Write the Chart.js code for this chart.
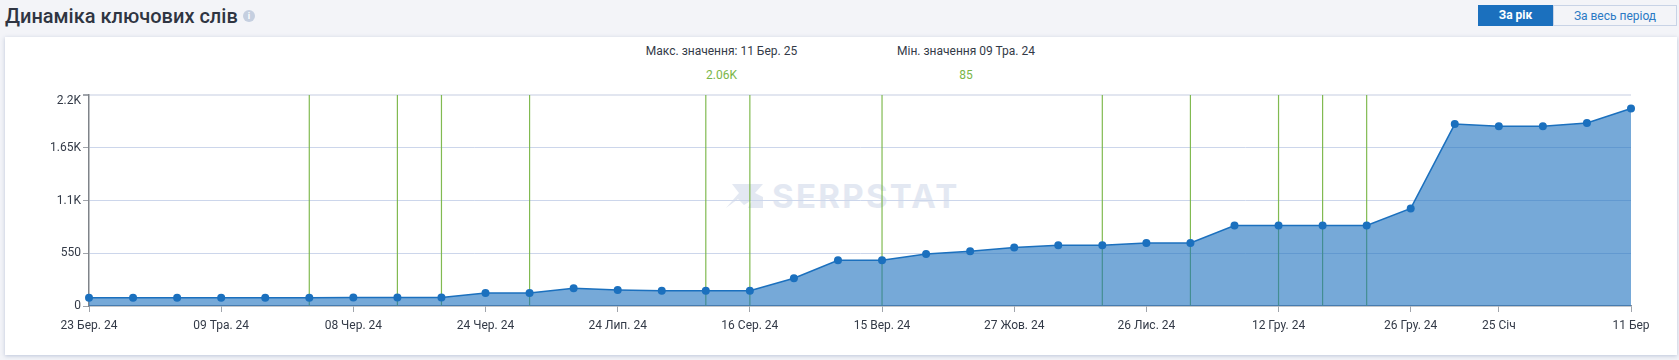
<!DOCTYPE html>
<html lang="uk">
<head>
<meta charset="utf-8">
<title>Динаміка ключових слів</title>
<script src="https://cdn.jsdelivr.net/npm/chart.js@4"></script>
<style>
html,body{margin:0;padding:0;width:1679px;height:360px;overflow:hidden;background:#f3f4f8;font-family:Roboto,sans-serif;}
.abs{position:absolute;white-space:nowrap;}
#title{left:5px;top:2px;font-size:20px;line-height:28px;font-weight:500;color:#2f3542;}
#info{left:243px;top:10px;width:12px;height:12px;border-radius:50%;background:#c5cfe0;color:#fff;font-size:9px;line-height:12px;text-align:center;font-weight:700;}
.btn{top:5px;height:21px;line-height:20px;font-size:12px;text-align:center;box-sizing:border-box;}
#b1{left:1478px;width:75px;background:#1b70be;color:#fff;font-weight:700;}
#b2{left:1553px;width:124px;background:#f3f4f8;color:#2a79c4;border:1px solid #c8d3e6;}
#card{left:5px;top:37px;width:1672px;height:318px;background:#fff;box-shadow:0 1px 4px rgba(120,140,180,.45);}
.stat{font-size:12px;line-height:14px;text-align:center;width:240px;color:#333a47;}
.val{color:#7ab648;}
#wm{left:772px;top:178px;font:700 33px/36px Inter,sans-serif;letter-spacing:2.3px;color:#e3e8f2;}
#logo{left:726px;top:183px;}
canvas{position:absolute;left:0;top:0;}
</style>
</head>
<body>
<div class="abs" id="title">Динаміка ключових слів</div>
<div class="abs" id="info">i</div>
<div class="abs btn" id="b1">За рік</div>
<div class="abs btn" id="b2">За весь період</div>
<div class="abs" id="card"></div>
<div class="abs stat" style="left:601.5px;top:44px">Макс. значення: 11 Бер. 25</div>
<div class="abs stat val" style="left:601.5px;top:68px">2.06K</div>
<div class="abs stat" style="left:846px;top:44px">Мін. значення 09 Тра. 24</div>
<div class="abs stat val" style="left:846px;top:68px">85</div>
<svg class="abs" id="logo" width="38" height="26" viewBox="0 0 38 26"><path fill="#e3e8f2" d="M6 1H37L29 10 37 14V25H22L26 17 18 22 12 16 0 25 13 10Z"/></svg>
<div class="abs" id="wm">SERPSTAT</div>
<canvas id="c" width="1679" height="360"></canvas>
<script>
const categories = ['23 Бер. 24','','','09 Тра. 24','','','08 Чер. 24','','','24 Чер. 24','','','24 Лип. 24','','','16 Сер. 24','','','15 Вер. 24','','','27 Жов. 24','','','26 Лис. 24','','','12 Гру. 24','','','26 Гру. 24','','25 Січ','','','11 Бер'];
const keywords = [87,87,86,85,86,87,88,89,89,136,135,184,167,160,160,160,289,477,477,543,571,609,633,634,658,658,839,839,839,839,1017,1897,1873,1873,1908,2060];
const updateMarks = [null,null,null,null,null,2200,null,2200,2200,null,2200,null,null,null,2200,2200,null,null,2200,null,null,null,null,2200,null,2200,null,2200,2200,2200,null,null,null,null,null,null];
const yTickLabels = {0:'0',550:'550',1100:'1.1K',1650:'1.65K',2200:'2.2K'};

new Chart(document.getElementById('c'), {
  type: 'line',
  data: {
    labels: categories,
    datasets: [
      {
        type: 'line', order: 1, data: keywords,
        borderColor: '#1b70be', borderWidth: 1.5,
        backgroundColor: 'rgba(27,112,190,0.6)',
        fill: 'origin', tension: 0,
        pointRadius: 4, pointBackgroundColor: '#1b70be', pointBorderWidth: 0,
        clip: false
      },
      {
        type: 'bar', order: 2, data: updateMarks,
        backgroundColor: 'rgba(122,182,72,0.95)', barThickness: 1.2, inflateAmount: 0
      }
    ]
  },
  options: {
    responsive: false, animation: false,
    layout: { padding: { left: 0, right: 48, top: 95, bottom: 0 } },
    plugins: { legend: { display: false }, tooltip: { enabled: false } },
    scales: {
      x: {
        offset: false,
        border: { color: '#8a8f98', width: 1.5 },
        grid: {
          drawOnChartArea: false, tickLength: 6, offset: false,
          tickColor: c => categories[c.index] ? '#a0a4ab' : 'transparent', tickWidth: 1
        },
        ticks: {
          autoSkip: false, maxRotation: 0, padding: 7,
          color: '#333a47', font: { family: 'Roboto', size: 12 },
          callback: (v, i) => categories[i]
        },
        afterFit: s => { s.height = 54; }
      },
      y: {
        min: 0, max: 2200,
        border: { color: '#7f8389', width: 1.5 },
        grid: {
          tickLength: 6,
          color: c => c.tick && c.tick.value === 2200 ? '#e2e6f0' : (c.tick && c.tick.value === 0 ? 'transparent' : '#ccd6eb'),
          lineWidth: c => c.tick && c.tick.value === 2200 ? 2 : 1,
          tickColor: '#a0a4ab'
        },
        ticks: {
          stepSize: 550, padding: 2, color: '#333a47',
          font: c => ({ family: 'Roboto', size: 12, lineHeight: c.tick && c.tick.value === 2200 ? '12px' : 1.2 }),
          callback: v => v === 2200 ? ['', yTickLabels[v]] : yTickLabels[v]
        },
        afterFit: s => { s.width = 89; }
      }
    }
  }
});
</script>
</body>
</html>
